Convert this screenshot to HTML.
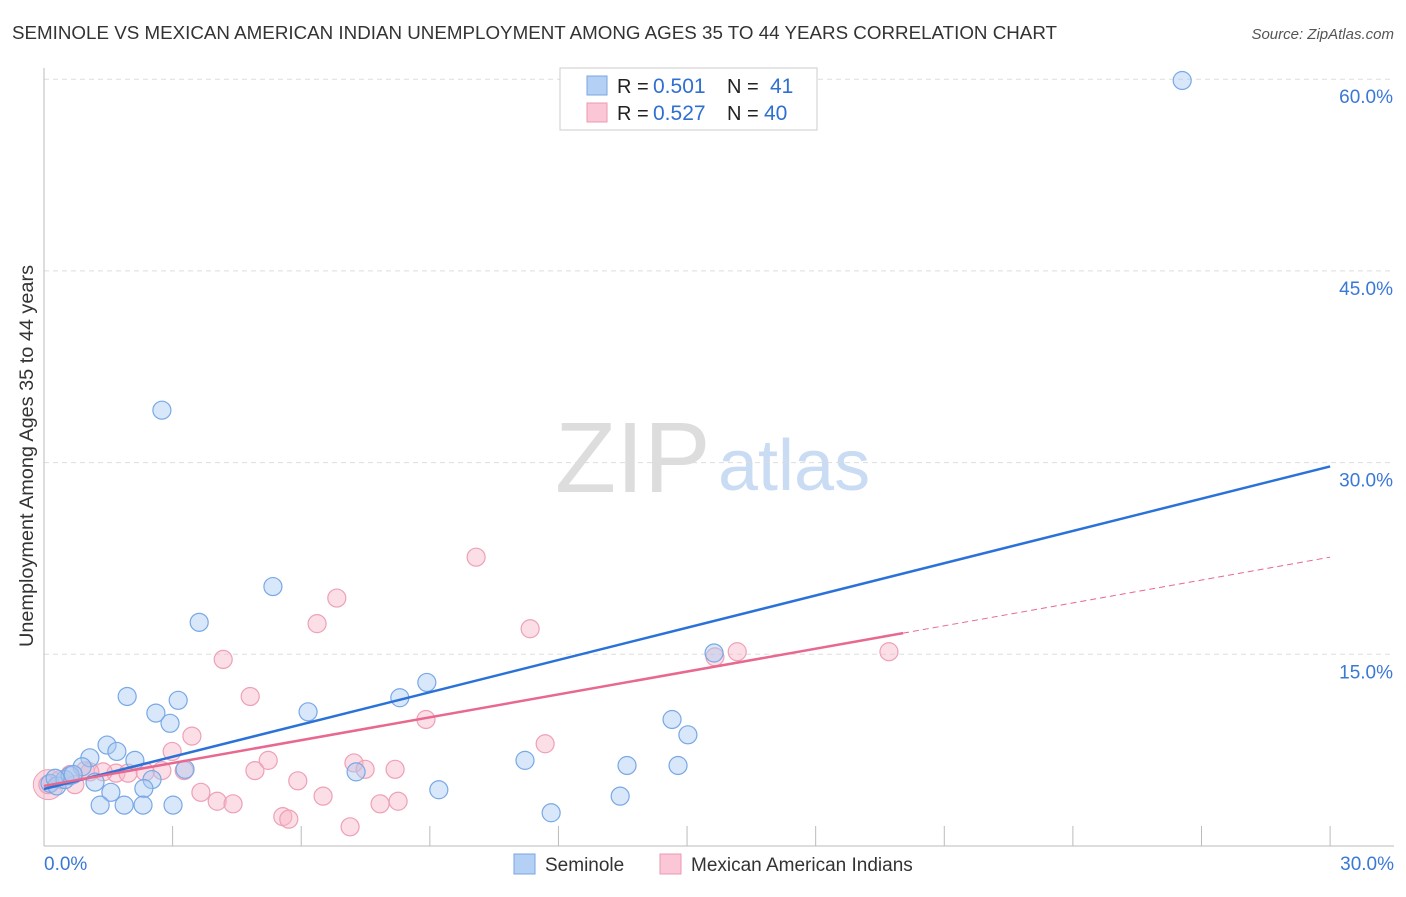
<!DOCTYPE html>
<html><head><meta charset="utf-8"><style>
body{margin:0;background:#fff;font-family:"Liberation Sans",sans-serif;}
svg text{font-family:"Liberation Sans",sans-serif;}
</style></head><body>
<svg id="c" width="1406" height="892" xmlns="http://www.w3.org/2000/svg">
<text x="12" y="39" font-size="18" fill="#333" textLength="1045" lengthAdjust="spacingAndGlyphs">SEMINOLE VS MEXICAN AMERICAN INDIAN UNEMPLOYMENT AMONG AGES 35 TO 44 YEARS CORRELATION CHART</text>
<text x="1394" y="39" font-size="15" fill="#555" text-anchor="end" font-style="italic">Source: ZipAtlas.com</text>
<text x="555" y="492" font-size="100" fill="#ddd" font-family="Liberation Serif">ZIP</text>
<text x="718" y="490" font-size="72" fill="#c9dcf3">atlas</text>
<g id="grid"></g>
<g id="pts"></g>
<g id="lines"></g>
<text transform="translate(33,456) rotate(-90)" font-size="19" fill="#333" text-anchor="middle" textLength="382" lengthAdjust="spacingAndGlyphs">Unemployment Among Ages 35 to 44 years</text>
<g>
<rect x="560" y="68" width="257" height="62" fill="#fff" stroke="#ccc"/>
<rect x="587" y="76" width="20" height="19" fill="#b4d0f5" stroke="#7aa6e0"/>
<rect x="587" y="103" width="20" height="19" fill="#fbc6d5" stroke="#eb9ab2"/>
<text x="617" y="93" font-size="20" fill="#222">R =</text>
<text x="653" y="93" font-size="21" fill="#2f6fd1">0.501</text>
<text x="727" y="93" font-size="20" fill="#222">N =</text>
<text x="770" y="93" font-size="21" fill="#2f6fd1">41</text>
<text x="617" y="120" font-size="20" fill="#222">R =</text>
<text x="653" y="120" font-size="21" fill="#2f6fd1">0.527</text>
<text x="727" y="120" font-size="20" fill="#222">N =</text>
<text x="764" y="120" font-size="21" fill="#2f6fd1">40</text>
</g>
<g>
<rect x="514" y="854" width="21" height="20" fill="#b4d0f5" stroke="#7aa6e0"/>
<text x="545" y="871" font-size="19" fill="#333">Seminole</text>
<rect x="660" y="854" width="21" height="20" fill="#fbc6d5" stroke="#eb9ab2"/>
<text x="691" y="871" font-size="19" fill="#333">Mexican American Indians</text>
</g>
</svg>
<script>
const yTicks=[15,30,45,60];
const xTickLabels=["0.0%","30.0%"];
const blueX=[26.55,2.75,5.34,3.62,1.94,3.13,2.61,2.94,6.16,8.93,8.30,15.63,14.65,15.02,1.47,1.70,1.07,2.12,0.89,2.52,3.29,1.19,1.56,2.33,1.31,1.87,2.31,3.01,7.28,11.22,13.60,14.79,9.21,13.44,11.83,0.14,0.30,0.49,0.61,0.26,0.68];
const blueY=[59.9,34.1,20.3,17.5,11.7,11.4,10.4,9.6,10.5,12.8,11.6,15.1,9.9,8.7,7.9,7.4,6.9,6.7,6.2,5.2,6.0,5.0,4.2,4.5,3.2,3.2,3.2,3.2,5.8,6.7,6.3,6.3,4.4,3.9,2.6,4.9,4.7,5.2,5.5,5.3,5.6];
const pinkX=[10.08,6.83,6.37,11.34,4.18,16.17,19.71,4.81,8.91,3.45,11.69,2.99,5.23,7.23,7.49,8.19,4.92,3.27,2.75,2.36,1.68,1.38,1.96,5.92,3.66,4.04,4.41,6.51,7.84,8.26,5.57,5.71,7.14,15.65,0.09,0.37,0.61,0.96,0.72,1.07];
const pinkY=[22.6,19.4,17.4,17.0,14.6,15.2,15.2,11.7,9.9,8.6,8.0,7.4,6.7,6.5,6.0,6.0,5.9,5.9,5.9,5.8,5.7,5.8,5.7,5.1,4.2,3.5,3.3,3.9,3.3,3.5,2.3,2.1,1.5,14.8,4.8,5.2,5.6,5.9,4.8,5.8];
const blueTrend=[4.46,29.7];
const pinkTrend=[4.7,22.6];
const pinkSolidEnd=20.04;
const X=v=>44+v*42.87, Y=v=>846-v*12.78;
const NS="http://www.w3.org/2000/svg";
function mk(t,a,p){const e=document.createElementNS(NS,t);for(const k in a)e.setAttribute(k,a[k]);p.appendChild(e);return e;}
const g=document.getElementById('grid'),P=document.getElementById('pts'),L=document.getElementById('lines');
yTicks.forEach(t=>{
 const l=mk('line',{x1:44,x2:1394,y1:Y(t),y2:Y(t),stroke:'#ddd','stroke-dasharray':'5,4'},g);
 
 
 const tx=mk('text',{x:1393,y:Y(t)+24,'font-size':19,fill:'#3a78d6','text-anchor':'end'},g);tx.textContent=t.toFixed(1)+'%';
 
 
});
const ax=mk('line',{x1:44,x2:1394,y1:846,y2:846,stroke:'#bbb'},g);


const ay=mk('line',{x1:44,x2:44,y1:68,y2:846,stroke:'#bbb'},g);


for(let i=1;i<=10;i++){const tk=mk('line',{x1:X(i*3),x2:X(i*3),y1:826,y2:846,stroke:'#bbb'},g);
 
 }
[[0,'start',44],[30,'end',1394]].forEach((d,i)=>{const t=mk('text',{x:d[2],y:870,'font-size':19,fill:'#3a78d6','text-anchor':d[1]},g);t.textContent=xTickLabels[i];
 
 });
const big=mk('circle',{cx:X(0.1),cy:Y(4.8),r:15,fill:'#f7b6c8','fill-opacity':0.5,stroke:'#eea0b6'},P);


pinkX.forEach((x,i)=>{const c=mk('circle',{cx:X(x),cy:Y(pinkY[i]),r:9,fill:'#f7b6c8','fill-opacity':0.45,stroke:'#eea0b6','stroke-width':1.2},P);
 
 });
blueX.forEach((x,i)=>{const c=mk('circle',{cx:X(x),cy:Y(blueY[i]),r:9,fill:'#a9c9f2','fill-opacity':0.45,stroke:'#78a8e6','stroke-width':1.2},P);
 
 });
const bl=mk('line',{x1:X(0),y1:Y(blueTrend[0]),x2:X(30),y2:Y(blueTrend[1]),stroke:'#2a72d8','stroke-width':2.5},L);


const pm=pinkTrend[0]+(pinkTrend[1]-pinkTrend[0])*pinkSolidEnd/30;
const pl=mk('line',{x1:X(0),y1:Y(pinkTrend[0]),x2:X(pinkSolidEnd),y2:Y(pm),stroke:'#e8688f','stroke-width':2.5},L);


const pd=mk('line',{x1:X(pinkSolidEnd),y1:Y(pm),x2:X(30),y2:Y(pinkTrend[1]),stroke:'#e8688f','stroke-width':1,'stroke-dasharray':'6,4'},L);


</script>
</body></html>
